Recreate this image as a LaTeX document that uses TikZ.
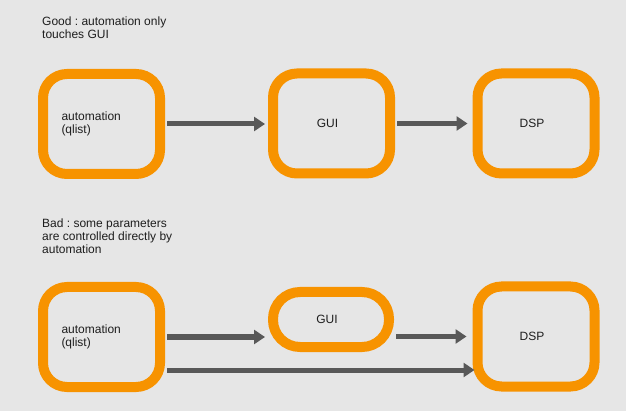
\documentclass[tikz,border=0pt]{standalone}
\usepackage{fontspec}
\setmainfont{Liberation Sans}
\frenchspacing
\usetikzlibrary{arrows.meta,positioning,calc}
\definecolor{bgray}{HTML}{E6E6E6}
\definecolor{borange}{HTML}{F79300}
\definecolor{agray}{HTML}{585858}
\definecolor{tdark}{HTML}{1E1E1E}
\tikzset{
  blockbox/.style={draw=borange, line width=10pt, rounded corners=24pt,
                   minimum width=117pt, minimum height=100pt, inner sep=0pt,
                   text=tdark, font=\fontsize{12}{13}\selectfont},
  pillbox/.style={draw=borange, line width=10pt, rounded corners=27pt,
                  minimum width=116pt, minimum height=55pt, inner sep=0pt,
                  text=tdark, font=\fontsize{12}{13}\selectfont},
  notetext/.style={anchor=west, align=left, inner sep=0pt, text=tdark,
                   font=\fontsize{12}{13}\selectfont},
  arr/.style={-{Triangle[length=11pt, width=14pt]}, line width=5pt, color=agray,
              shorten <=2pt, shorten >=3pt}}

\begin{document}
\begin{tikzpicture}[x=1pt, y=-1pt]
  \fill[bgray] (0,0) rectangle (626,411);
  \useasboundingbox (0,0) rectangle (626,411);

  % good case
  \node[notetext] (goodnote) at (42,27.5) {Good : automation only\\touches GUI};
  \node[blockbox, text width=80pt, align=left] (auto1) at (101.5,124) {automation\\(qlist)};
  \node[blockbox] (gui1) at (331.5,123.5) {\hspace*{-8pt}GUI};
  \node[blockbox] (dsp1) at (536,123.5) {\hspace*{-8pt}DSP};
  \draw[arr] (auto1.east) -- (auto1.east -| gui1.west);
  \draw[arr, shorten >=5pt] (gui1.east) -- (dsp1.west);

  % bad case
  \node[notetext] (badnote) at (42,236) {Bad : some parameters\\are controlled directly by\\automation};
  \node[blockbox, text width=80pt, align=left] (auto2) at (101.5,337) {automation\\(qlist)};
  \node[pillbox] (gui2) at (331,319.5) {\hspace*{-8pt}GUI};
  \node[blockbox] (dsp2) at (536,336.5) {\hspace*{-8pt}DSP};
  \coordinate (direct) at ($(auto2.east)+(0,33)$);
  \draw[arr] (auto2.east) -- (auto2.east -| gui2.west);
  \draw[arr, shorten >=6pt] (gui2.east |- dsp2.west) -- (dsp2.west);
  \draw[arr, shorten >=-2pt] (direct) -- (direct -| dsp2.west);
\end{tikzpicture}
\end{document}
